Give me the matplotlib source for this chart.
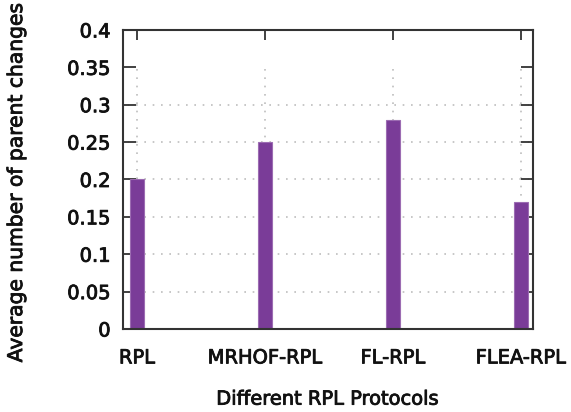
import matplotlib
matplotlib.use("Agg")
import matplotlib.pyplot as plt
import matplotlib.patheffects as pe

protocols = ["RPL", "MRHOF-RPL", "FL-RPL", "FLEA-RPL"]
parent_changes = [0.2, 0.25, 0.28, 0.17]
yticks = [0, 0.05, 0.1, 0.15, 0.2, 0.25, 0.3, 0.35, 0.4]

plt.rcParams["font.family"] = "DejaVu Sans"
plt.rcParams["font.size"] = 14
# slightly heavier strokes for the text
heavy = [pe.withStroke(linewidth=0.6, foreground="#111111")]

fig = plt.figure(figsize=(5.71, 4.12), dpi=100)
ax = fig.add_axes([0.2154, 0.2015, 0.718, 0.7257])

x = list(range(len(protocols)))

# dotted grid, kept below the key area at the top
ax.hlines(yticks[1:7], -0.2, 3.2, colors="#bdbdbd", linestyles=(0, (1, 4)), linewidth=1.2, zorder=0)
ax.vlines(x, 0, 0.35, colors="#bdbdbd", linestyles=(0, (1, 4)), linewidth=1.2, zorder=0)

ax.bar(x, parent_changes, width=0.11, color="#7a3c98", edgecolor="#9c6cb2", linewidth=0.8, zorder=2)

ax.set_xlim(-0.109, 3.094)
ax.set_ylim(0, 0.4)
ax.set_yticks(yticks)
ax.set_yticklabels(["0", "0.05", "0.1", "0.15", "0.2", "0.25", "0.3", "0.35", "0.4"])
ax.set_xticks(x)
ax.set_xticklabels(protocols)

for s in ax.spines.values():
    s.set_color("#333333")
    s.set_linewidth(1.5)
    s.set_zorder(3)

ax.tick_params(axis="y", direction="in", length=9, width=1.3, color="#333333",
               right=True, pad=9, labelcolor="#111111")
ax.tick_params(axis="x", direction="in", length=7, width=1.3, color="#333333",
               top=True, pad=14, labelcolor="#111111")

ylab = fig.text(0.029, 0.558, "Average number of parent changes", rotation=90,
                ha="center", va="center", fontsize=14.6, color="#111111")
xlab = ax.set_xlabel("Different RPL Protocols", labelpad=16, color="#111111")

for t in ax.get_xticklabels() + ax.get_yticklabels() + [ylab, xlab]:
    t.set_path_effects(heavy)

fig.savefig("out.png", dpi=100)
